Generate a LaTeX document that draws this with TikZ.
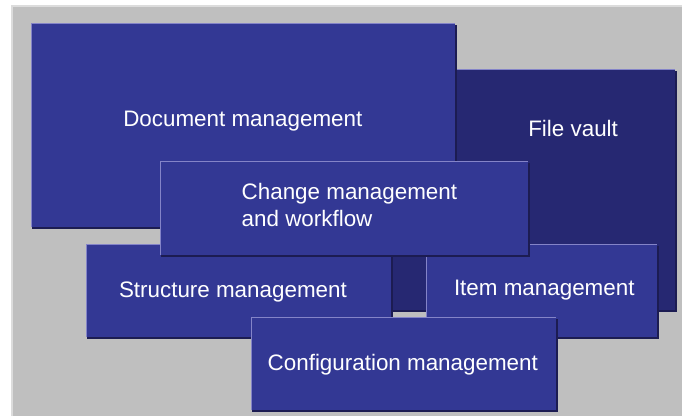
\documentclass[tikz,border=0pt]{standalone}
\usepackage{fontspec}
\setmainfont{Liberation Sans}
\definecolor{boxblue}{RGB}{51,56,148}
\definecolor{vaultblue}{RGB}{38,40,114}
\definecolor{edgelight}{RGB}{132,132,200}
\definecolor{edgedark}{RGB}{28,28,82}
\definecolor{bggray}{RGB}{191,191,191}
\definecolor{bandgray}{RGB}{220,220,220}
\newcommand\boxedges[1]{%
  \draw[edgedark, line width=2pt] ([shift={(1,2)}]#1.north east) -- ([shift={(1,1)}]#1.south east) -- ([shift={(1,1)}]#1.south west);
  \draw[edgelight, line width=1.2pt] ([shift={(0.6,0)}]#1.south west) -- ([shift={(0.6,0.6)}]#1.north west) -- ([shift={(0,0.6)}]#1.north east);
}
\begin{document}
\begin{tikzpicture}[x=1pt,y=-1pt,
  pbox/.style={draw=none, inner sep=0, outer sep=0, anchor=north west, fill=boxblue},
  lbl/.style={anchor=base west, inner sep=0, outer sep=0, text=white, font=\fontsize{22.4}{27}\selectfont, align=left}]
\useasboundingbox (0,0) rectangle (682,416);
\fill[white] (0,0) rectangle (682,416);
\fill[bggray] (11,5) rectangle (682,416);
\draw[bandgray, line width=1.5pt] (11.75,416) -- (11.75,5.75) -- (682,5.75);
% File vault (partly hidden behind the others)
\node[pbox, fill=vaultblue, minimum width=355pt, minimum height=241pt] (vault) at (320,69) {};
\boxedges{vault}
% Document management
\node[pbox, minimum width=424pt, minimum height=204pt] (doc) at (31,23) {};
\boxedges{doc}
% Structure management
\node[pbox, minimum width=305pt, minimum height=93.5pt] (struct) at (86,243.5) {};
\boxedges{struct}
% Item management
\node[pbox, minimum width=231pt, minimum height=93.5pt] (item) at (426,243.5) {};
\boxedges{item}
% Change management
\node[pbox, minimum width=368pt, minimum height=93.5pt] (change) at (160,161) {};
\boxedges{change}
% Configuration management
\node[pbox, minimum width=305pt, minimum height=93pt] (config) at (251,317) {};
\boxedges{config}
% Labels
\node[lbl] (docl) at (123.3,126) {Document management};
\node[lbl] (vaultl) at (528.3,136) {File vault};
\node[lbl] (changel) at (241.7,226) {Change management\\and workflow};
\node[lbl] (structl) at (119,297.3) {Structure management};
\node[lbl] (iteml) at (454,295.7) {Item management};
\node[lbl] (configl) at (267.7,370.7) {Configuration management};
\end{tikzpicture}
\end{document}
